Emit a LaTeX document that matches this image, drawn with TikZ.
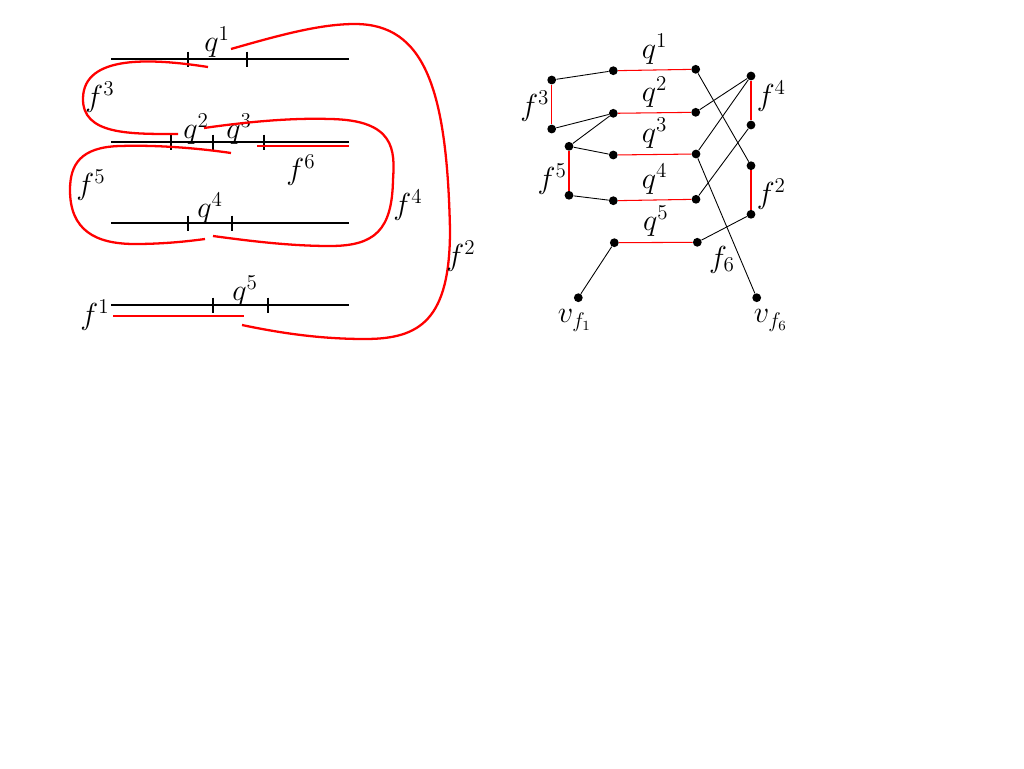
\documentclass[tikz,border=0pt]{standalone}
\usepackage{amsmath}
\usepackage{amssymb}
\usepackage{tikz}
\usetikzlibrary{arrows}

\tikzset{
	vtx/.style={circle, fill=black, inner sep=0pt, minimum size=5pt},
	lab/.style={font=\fontsize{17}{20}\selectfont, inner sep=1pt},
	strand/.style={draw=red, line width=1.3pt},
	axis/.style={line width=0.8pt},
	edge/.style={line width=0.5pt},
	redge/.style={draw=red, line width=0.6pt},
}

\begin{document}
\begin{tikzpicture}[x=0.02cm, y=-0.02cm]
	\useasboundingbox (0,0) rectangle (1024,768);
%	\draw [help lines, step=50] (0,0) grid (1024,768);
	%Rette con le tacche
	\draw [axis] (111,59) -- (349,59);
	\draw [axis] (111,142) -- (349,142);
	\draw [axis] (111,223) -- (349,223);
	\draw [axis] (111,305) -- (349,305);
	\foreach \x/\y in {188/59, 247/59, 171/142, 213/142, 264/142, 188/223, 232/223, 213/305, 268/305}
		\draw [axis] (\x,\y-7.5) -- (\x,\y+7.5);
	\node [lab] (lq1) at (217,42) {$q^1$};
	\node [lab] (lq2) at (196,129) {$q^2$};
	\node [lab] (lq3) at (239,129) {$q^3$};
	\node [lab] (lq4) at (210,208) {$q^4$};
	\node [lab] (lq5) at (245,291) {$q^5$};
	%Curve rosse
	\draw [strand] (257,146) -- (349,146);
	\draw [strand] (113,316) -- (244,316);
	\draw [strand] (231,49) .. controls (280,35) and (320,24) .. (355,24)
		.. controls (425,24) and (447,90) .. (450,230)
		.. controls (450,320) and (420,339) .. (365,339)
		.. controls (320,339) and (280,333) .. (242,325);
	\draw [strand] (208,67) .. controls (150,58) and (84,55) .. (83,98)
		.. controls (82,135) and (130,134) .. (178,134);
	\draw [strand] (204,128) .. controls (260,120) and (300,118) .. (330,119)
		.. controls (395,120) and (395,150) .. (393,180)
		.. controls (392,230) and (375,246) .. (330,246)
		.. controls (290,246) and (250,241) .. (213,236);
	\draw [strand] (231,153) .. controls (190,147) and (150,145) .. (120,146)
		.. controls (80,147) and (70,165) .. (70,190)
		.. controls (70,230) and (95,244) .. (135,244)
		.. controls (165,244) and (190,241) .. (205,239);
	\node [lab] (lf1) at (95,315) {$f^1$};
	\node [lab] (lf2) at (461,256) {$f^2$};
	\node [lab] (lf3) at (100,97) {$f^3$};
	\node [lab] (lf4) at (408,205) {$f^4$};
	\node [lab] (lf5) at (91,185) {$f^5$};
	\node [lab] (lf6) at (301,170) {$f^6$};

	%Grafo a destra
	\node [vtx] (a1) at (551.7,80) {};
	\node [vtx] (a2) at (551.7,129) {};
	\node [vtx] (d1) at (569,146.3) {};
	\node [vtx] (d2) at (569,195.3) {};
	\node [vtx] (b1) at (613.3,70.7) {};
	\node [vtx] (b2) at (613.3,113.3) {};
	\node [vtx] (b3) at (613.3,155) {};
	\node [vtx] (b4) at (613.3,200.7) {};
	\node [vtx] (b5) at (614.3,242.7) {};
	\node [vtx] (c1) at (695.7,69.3) {};
	\node [vtx] (c2) at (695.7,112.3) {};
	\node [vtx] (c3) at (696,154) {};
	\node [vtx] (c4) at (696,199.3) {};
	\node [vtx] (c5) at (697.3,242.3) {};
	\node [vtx] (e1) at (751,76) {};
	\node [vtx] (e2) at (751,125) {};
	\node [vtx] (g1) at (751,165.7) {};
	\node [vtx] (g2) at (751,214.3) {};
	\node [vtx] (v1) at (578.3,297.7) {};
	\node [vtx] (v6) at (756.7,297.7) {};
	%Archi rossi
	\draw [redge] (b1) -- (c1) node [lab, pos=0.5, above=2pt] (gq1) {$q^1$};
	\draw [redge] (b2) -- (c2) node [lab, pos=0.5, above=2pt] (gq2) {$q^2$};
	\draw [redge] (b3) -- (c3) node [lab, pos=0.5, above=2pt] (gq3) {$q^3$};
	\draw [redge] (b4) -- (c4) node [lab, pos=0.5, above=2pt] (gq4) {$q^4$};
	\draw [redge] (b5) -- (c5) node [lab, pos=0.5, above=2pt] (gq5) {$q^5$};
	\draw [redge] (a1) -- (a2) node [lab, pos=0.55, left=0pt] (gf3) {$f^3$};
	\draw [redge] (d1) -- (d2) node [lab, pos=0.7, left=0pt] (gf5) {$f^5$};
	\draw [redge] (e1) -- (e2) node [lab, pos=0.4, right=2pt] (gf4) {$f^4$};
	\draw [redge] (g1) -- (g2) node [lab, pos=0.6, right=2pt] (gf2) {$f^2$};
	%Archi neri
	\draw [edge] (a1) -- (b1);
	\draw [edge] (a2) -- (b2);
	\draw [edge] (b2) -- (d1);
	\draw [edge] (d1) -- (b3);
	\draw [edge] (d2) -- (b4);
	\draw [edge] (c1) -- (g1);
	\draw [edge] (c2) -- (e1);
	\draw [edge] (c3) -- (e1);
	\draw [edge] (c4) -- (e2);
	\draw [edge] (c5) -- (g2);
	\draw [edge] (b5) -- (v1);
	\draw [edge] (c3) -- (v6) node [lab, pos=0.75, left=2pt] (gf6) {$f_6$};
	\node [lab, below=3pt, xshift=-2pt] (lv1) at (v1.south) {$v_{f_1}$};
	\node [lab, below=3pt, xshift=8pt] (lv6) at (v6.south) {$v_{f_6}$};
\end{tikzpicture}
\end{document}
